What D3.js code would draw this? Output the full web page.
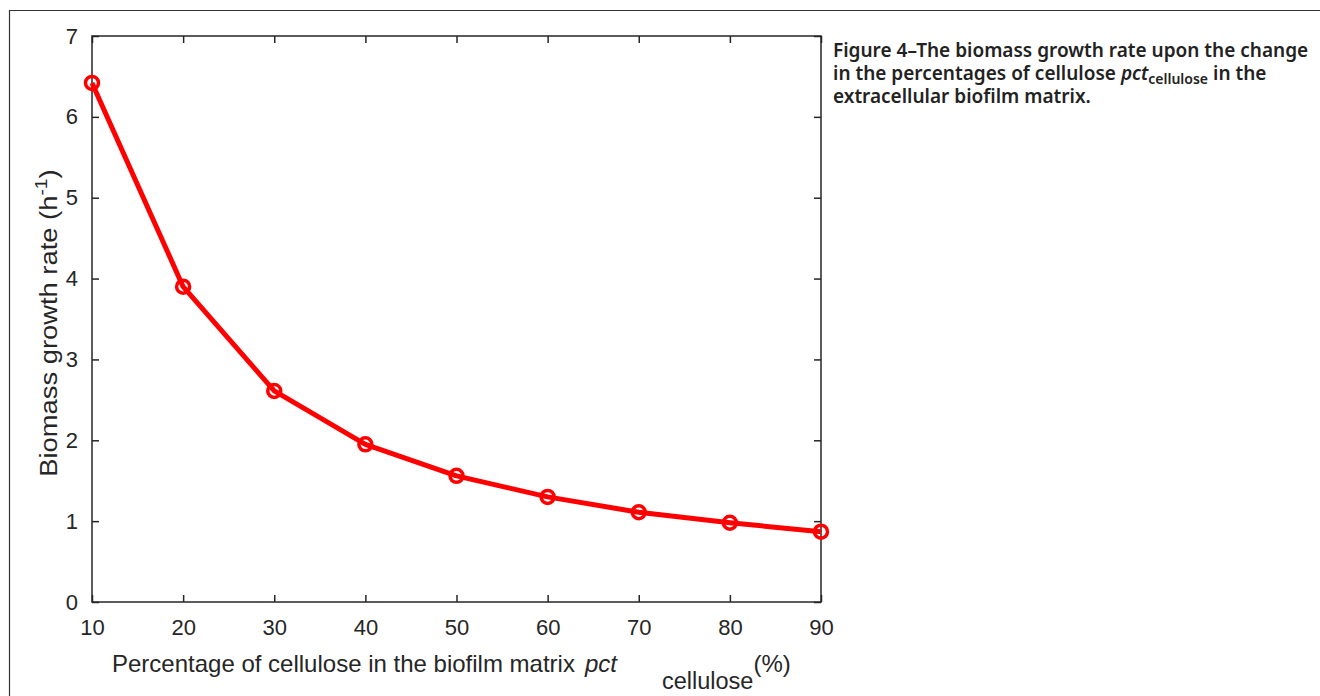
<!DOCTYPE html>
<html>
<head>
<meta charset="utf-8">
<script src="https://cdn.jsdelivr.net/npm/d3@7"></script>
<style>
  body { margin: 0; background: #fff; }
  svg { display: block; }
</style>
</head>
<body>
<div id="chart"></div>
<script>
// Biomass growth rate vs cellulose percentage

const pct = [10, 20, 30, 40, 50, 60, 70, 80, 90];
const growthRate = [6.42, 3.90, 2.61, 1.95, 1.56, 1.30, 1.11, 0.98, 0.87];
const xTicks = [10, 20, 30, 40, 50, 60, 70, 80, 90];
const yTicks = [0, 1, 2, 3, 4, 5, 6, 7];
const captionLines = [
  "Figure 4\u2013The biomass growth rate upon the change",
  "in the percentages of cellulose ",
  "extracellular biofilm matrix."
];

const width = 1320, height = 696;
const margin = {top: 36, right: 499, bottom: 94, left: 92};

const svg = d3.select('#chart')
  .append('svg')
    .attr('width', width)
    .attr('height', height);

// outer frame (top + left only visible)
svg.append('path')
    .attr('d', 'M9.5,' + height + 'V10.5H' + width)
    .attr('fill', 'none')
    .attr('stroke', '#333')
    .attr('stroke-width', 1.2);

var x = d3.scaleLinear()
    .domain([10, 90])
    .range([margin.left, width - margin.right]);

var y = d3.scaleLinear()
    .domain([0, 7])
    .range([height - margin.bottom, margin.top]);

const axisColor = '#262626';
const tickFont = '22px "Liberation Sans", Arial, sans-serif';

var styleAxis = g => {
  g.select('.domain').remove();
  g.selectAll('.tick line').attr('stroke', axisColor).attr('stroke-width', 1.5);
  g.selectAll('.tick text').attr('fill', axisColor).style('font', tickFont);
};

svg.append('g')
    .attr('transform', 'translate(0,' + y(0) + ')')
    .call(d3.axisBottom(x).tickValues(xTicks).tickSizeInner(-7).tickSizeOuter(0).tickPadding(17).tickFormat(d3.format('d')))
    .call(styleAxis);

svg.append('g')
    .attr('transform', 'translate(0,' + y(7) + ')')
    .call(d3.axisTop(x).tickValues(xTicks).tickSizeInner(-7).tickSizeOuter(0).tickFormat(''))
    .call(styleAxis);

svg.append('g')
    .attr('transform', 'translate(' + x(10) + ',0)')
    .call(d3.axisLeft(y).tickValues(yTicks).tickSizeInner(-7).tickSizeOuter(0).tickPadding(14).tickFormat(d3.format('d')))
    .call(styleAxis);

svg.append('g')
    .attr('transform', 'translate(' + x(90) + ',0)')
    .call(d3.axisRight(y).tickValues(yTicks).tickSizeInner(-7).tickSizeOuter(0).tickFormat(''))
    .call(styleAxis);

// axes box
svg.append('rect')
    .attr('x', x(10))
    .attr('y', y(7))
    .attr('width', x(90) - x(10))
    .attr('height', y(0) - y(7))
    .attr('fill', 'none')
    .attr('stroke', axisColor)
    .attr('stroke-width', 1.5);

// data line
var line = d3.line()
    .x((d, i) => x(pct[i]))
    .y(d => y(d));

svg.append('path')
    .datum(growthRate)
    .attr('fill', 'none')
    .attr('stroke', '#ff0000')
    .attr('stroke-width', 5)
    .attr('stroke-linejoin', 'round')
    .attr('d', line);

svg.append('g')
  .selectAll('circle')
  .data(growthRate)
  .join('circle')
    .attr('cx', (d, i) => x(pct[i]))
    .attr('cy', d => y(d))
    .attr('r', 6.5)
    .attr('fill', 'none')
    .attr('stroke', '#ff0000')
    .attr('stroke-width', 3.5);

// axis labels
const labelFont = '24px "Liberation Sans", Arial, sans-serif';

const xl = svg.append('text')
    .attr('y', 672)
    .attr('fill', axisColor)
    .style('font', labelFont);
xl.append('tspan').attr('x', 112).text('Percentage of cellulose in the biofilm matrix');
xl.append('tspan').attr('x', 585).attr('font-style', 'italic').text('pct');
xl.append('tspan').attr('x', 662).attr('dy', 17).style('font-size', '23.5px').text('cellulose');
xl.append('tspan').attr('dy', -17).text('(%)');

const yl = svg.append('text')
    .attr('transform', 'translate(57,323) rotate(-90) scale(1.14,1)')
    .attr('text-anchor', 'middle')
    .attr('fill', axisColor)
    .style('font', labelFont);
yl.append('tspan').text('Biomass growth rate (h');
yl.append('tspan').attr('dy', -10).style('font-size', '17px').text('-1');
yl.append('tspan').attr('dy', 10).text(')');

// caption
const cap = svg.append('g')
    .attr('transform', 'translate(833,0)')
    .attr('fill', '#222')
    .style('font', '600 19px "Noto Sans", "Open Sans", sans-serif');

cap.append('text').attr('y', 57).text(captionLines[0]);
const c2 = cap.append('text').attr('y', 80);
c2.append('tspan').text(captionLines[1]);
c2.append('tspan').attr('font-style', 'italic').text('pct');
c2.append('tspan').attr('dy', 4).style('font-size', '14px').text('cellulose');
c2.append('tspan').attr('dy', -4).text(' in the');
cap.append('text').attr('y', 103).text(captionLines[2]);
</script>
</body>
</html>
